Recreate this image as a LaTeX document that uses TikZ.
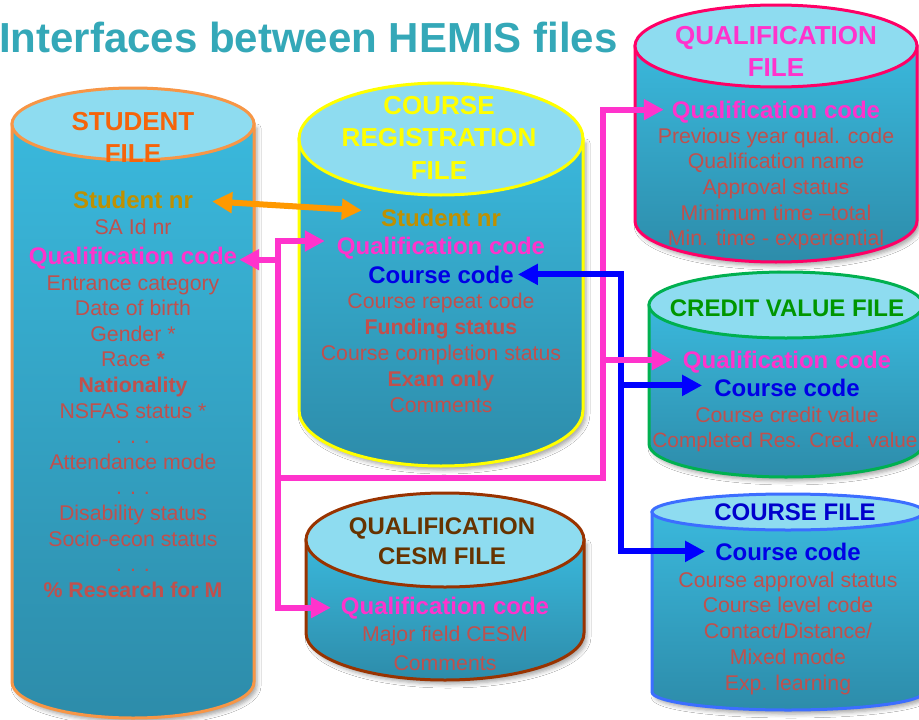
\documentclass[tikz,border=0pt]{standalone}
\usepackage{fontspec}
\setmainfont{Liberation Sans}
\usetikzlibrary{arrows.meta,shadows.blur}
\definecolor{itemred}{RGB}{192,80,77}
\definecolor{gold}{RGB}{191,144,0}
\definecolor{mag}{RGB}{255,51,204}
\definecolor{keyblue}{RGB}{0,0,230}
\definecolor{arrowblue}{RGB}{0,0,255}
\definecolor{orangearr}{RGB}{255,153,0}
\definecolor{studtitle}{RGB}{245,100,10}
\definecolor{studstroke}{RGB}{247,150,70}
\definecolor{regtitle}{RGB}{255,255,0}
\definecolor{qualstroke}{RGB}{255,0,102}
\definecolor{credtitle}{RGB}{0,150,0}
\definecolor{credstroke}{RGB}{0,176,80}
\definecolor{crstitle}{RGB}{0,0,204}
\definecolor{crsstroke}{RGB}{60,110,255}
\definecolor{cesmtitle}{RGB}{102,51,0}
\definecolor{cesmstroke}{RGB}{153,51,0}
\definecolor{maintitle}{RGB}{52,168,184}
\definecolor{cyltop}{RGB}{142,220,240}
\definecolor{cylA}{RGB}{58,184,220}
\definecolor{cylB}{RGB}{45,140,170}
\newcommand\dbcyl[6]{%
  \path[blur shadow={shadow xshift=3pt,shadow yshift=-4pt,shadow blur radius=4pt,shadow opacity=35},
        top color=cylA, bottom color=cylB, draw=#6, line width=3pt]
    (#1-#4,#2) -- (#1-#4,#3) arc[start angle=180,end angle=0,x radius=#4,y radius=#5] -- (#1+#4,#2) -- cycle;
  \path[fill=cyltop, draw=#6, line width=3pt] (#1,#2) ellipse[x radius=#4, y radius=#5];
}
\begin{document}
\begin{tikzpicture}[x=1pt,y=-1pt,
  item/.style={inner sep=0pt, anchor=base, text=itemred, font=\fontsize{21.3}{25.6}\selectfont},
  itemb/.style={item, font=\fontsize{21.3}{25.6}\selectfont\bfseries},
  key/.style={inner sep=0pt, anchor=base, font=\fontsize{24}{28}\selectfont\bfseries},
  ctitle/.style={inner sep=0pt, anchor=base, font=\fontsize{26}{31}\selectfont\bfseries},
  stitle/.style={inner sep=0pt, anchor=base, font=\fontsize{24}{29}\selectfont\bfseries},
  conn/.style={line width=6pt, line join=miter},
  tipend/.style={-{Triangle[length=20pt,width=20pt]}},
  pinkarr/.style={conn, draw=mag, tipend},
  bluearr/.style={conn, draw=arrowblue, tipend},
  orarr/.style={conn, draw=orangearr, {Triangle[length=20pt,width=20pt]}-{Triangle[length=20pt,width=20pt]}}
]
\useasboundingbox (0,0) rectangle (919,720);
\fill[white] (0,0) rectangle (919,720);

% title
\node[anchor=base west, inner sep=0pt, font=\fontsize{42}{50}\selectfont\bfseries, text=maintitle] (title) at (-1,52) {Interfaces between HEMIS files};

% cylinders
\dbcyl{133}{124}{682}{121}{36}{studstroke}
\dbcyl{441}{139}{410}{142}{56}{regtitle}
\dbcyl{776}{46}{221}{141}{41}{qualstroke}
\dbcyl{786}{305}{444}{137}{33}{credstroke}
\dbcyl{788}{512}{692}{136}{18}{crsstroke}
\dbcyl{445}{540}{633}{139}{47}{cesmstroke}

% student file
\node[ctitle,text=studtitle] (stT1) at (133,130) {STUDENT};
\node[ctitle,text=studtitle] (stT2) at (133,162) {FILE};
\node[key,text=gold] (ssn) at (133,208) {Student nr};
\node[item] (sid) at (133,234) {SA Id nr};
\node[key,text=mag] (sqc) at (133,264) {Qualification code};
\node[item] (s01) at (133,290) {Entrance category};
\node[item] (s02) at (133,315.6) {Date of birth};
\node[item] (s03) at (133,341.2) {Gender *};
\node[item] (s04) at (133,366.8) {Race \textbf{*}};
\node[itemb] (s05) at (133,392.4) {Nationality};
\node[item] (s06) at (133,418) {NSFAS status *};
\node[item] (s07) at (133,443.6) {. . .};
\node[item] (s08) at (133,469.2) {Attendance mode};
\node[item] (s09) at (133,494.8) {. . .};
\node[item] (s10) at (133,520.4) {Disability status};
\node[item] (s11) at (133,546) {Socio-econ status};
\node[item] (s12) at (133,571.6) {. . .};
\node[itemb] (s13) at (133,597.2) {\% Research for M};

% course registration file
\node[ctitle,text=regtitle] (rT1) at (439,114) {COURSE};
\node[ctitle,text=regtitle] (rT2) at (439,146) {REGISTRATION};
\node[ctitle,text=regtitle] (rT3) at (439,179) {FILE};
\node[key,text=gold] (rsn) at (441,226) {Student nr};
\node[key,text=mag] (rqc) at (441,254) {Qualification code};
\node[key,text=keyblue] (rcc) at (441,283) {Course code};
\node[item] (r1) at (441,308) {Course repeat code};
\node[itemb] (r2) at (441,334) {Funding status};
\node[item] (r3) at (441,360) {Course completion status};
\node[itemb] (r4) at (441,386) {Exam only};
\node[item] (r5) at (441,412) {Comments};

% qualification file
\node[ctitle,text=mag] (qT1) at (776,44) {QUALIFICATION};
\node[ctitle,text=mag] (qT2) at (776,76) {FILE};
\node[key,text=mag] (qqc) at (776,118) {Qualification code};
\node[item] (q1) at (776,143) {Previous year qual. code};
\node[item] (q2) at (776,168) {Qualification name};
\node[item] (q3) at (776,194) {Approval status};
\node[item] (q4) at (776,220) {Minimum time –total};
\node[item] (q5) at (776,245) {Min. time - experiential};

% credit value file
\node[stitle,text=credtitle] (vT) at (787,316.5) {CREDIT VALUE FILE};
\node[key,text=mag] (vqc) at (787,368) {Qualification code};
\node[key,text=keyblue] (vcc) at (787,396) {Course code};
\node[item] (v1) at (787,422) {Course credit value};
\node[item, font=\fontsize{20.8}{25}\selectfont] (v2) at (785,447) {Completed Res. Cred. value};

% course file
\node[stitle,text=crstitle] (fT) at (795,520.5) {COURSE FILE};
\node[key,text=keyblue] (fcc) at (788,560) {Course code};
\node[item] (f1) at (788,587) {Course approval status};
\node[item] (f2) at (788,612) {Course level code};
\node[item] (f3) at (788,638) {Contact/Distance/};
\node[item] (f4) at (788,664) {Mixed mode};
\node[item] (f5) at (788,690) {Exp. learning};

% qualification CESM file
\node[stitle,text=cesmtitle] (cT1) at (442,534.5) {QUALIFICATION};
\node[stitle,text=cesmtitle] (cT2) at (442,564.5) {CESM FILE};
\node[key,text=mag] (cqc) at (445,614) {Qualification code};
\node[item] (c1) at (445,641.5) {Major field CESM};
\node[item] (c2) at (445,670) {Comments};

% connector junctions
\coordinate (pTop) at (278,241);
\coordinate (pMid) at (278,478);
\coordinate (pR) at (603,478);
\coordinate (bX) at (621,275);
\coordinate (t1) at ([xshift=-12pt]rqc.west);
\coordinate (t2) at ([xshift=2pt,yshift=-2pt]sqc.east);
\coordinate (t3) at ([xshift=-10pt]cqc.west);
\coordinate (t4) at ([xshift=-8pt,yshift=2pt]qqc.west);
\coordinate (t5) at ([xshift=-11pt,yshift=2pt]vqc.west);
\coordinate (u1) at ([xshift=4pt]rcc.east);
\coordinate (u2) at ([xshift=-12pt,yshift=2pt]vcc.west);
\coordinate (u3) at ([xshift=-10pt]fcc.west);

% magenta connectors
\draw[pinkarr] (pTop |- t3) -- (pTop) -- (pTop -| t1);
\draw[pinkarr] (pTop) -- (pTop |- t3) -- (t3);
\draw[pinkarr] (pTop |- t2) -- (t2);
\draw[pinkarr] (pMid) -- (pR) -- (pR |- t4) -- (t4);

% blue connectors
\draw[bluearr] (bX |- u3) -- (bX |- u1) -- (u1);
\draw[bluearr] (bX |- u1) -- (bX |- u3) -- (u3);
\draw[bluearr] (bX |- u2) -- (u2);

\draw[pinkarr] (pR |- t5) -- (t5);

% orange connector
\draw[orarr] ([xshift=19pt,yshift=-2pt]ssn.east) -- ([xshift=-19pt,yshift=7pt]rsn.west);
\end{tikzpicture}
\end{document}
